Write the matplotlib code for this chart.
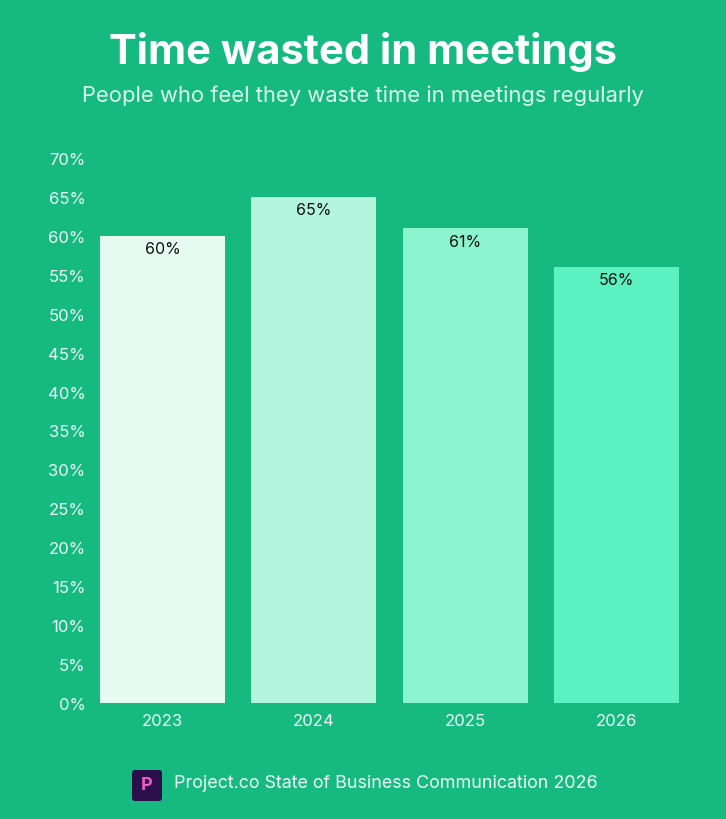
import matplotlib
matplotlib.use("Agg")
import matplotlib.pyplot as plt
from matplotlib.patches import FancyBboxPatch

years = ["2023", "2024", "2025", "2026"]
values = [60, 65, 61, 56]
bar_colors = ["#E6FCF3", "#B3F5DE", "#8CF4D1", "#5CF1C0"]
yticks = list(range(0, 75, 5))

BG = "#16B980"
plt.rcParams['font.family'] = ['Inter', 'DejaVu Sans']

fig = plt.figure(figsize=(7.26, 8.20), dpi=100, facecolor=BG)
ax = fig.add_axes([86.8/726, 1-704/820, 605.4/726, 545/820])
ax.set_facecolor(BG)

x = list(range(len(years)))
ax.bar(x, values, width=0.826, color=bar_colors, zorder=2)
for xi, v in zip(x, values):
    ax.text(xi, v - 0.7, f"{v}%", ha="center", va="top", fontsize=11.5, color="#111111", zorder=3)

ax.set_xlim(-0.5, 3.5)
ax.set_ylim(0, 70)
ax.set_yticks(yticks)
ax.set_yticklabels([f"{t}%" for t in yticks])
ax.set_xticks(x)
ax.set_xticklabels(years)
ax.tick_params(axis="both", length=0, colors="#EAFFF6", labelsize=12)
ax.tick_params(axis="y", pad=1)
ax.tick_params(axis="x", pad=7)
for s in ax.spines.values():
    s.set_visible(False)

fig.text(0.5, 1-52/820, "Time wasted in meetings", ha="center", va="center",
         fontsize=30, fontweight="bold", color="white")
fig.text(0.5, 1-96/820, "People who feel they waste time in meetings regularly", ha="center",
         va="center", fontsize=15.8, color="#D9FBEA")

# footer logo
logo = FancyBboxPatch((132/726, 1-802/820), 30/726, 31/820,
                      boxstyle="round,pad=0,rounding_size=0.004",
                      transform=fig.transFigure, facecolor="#2A0F4A", edgecolor="none")
fig.patches.append(logo)
fig.text(147/726, 1-786/820, "P", ha="center", va="center", fontsize=13, fontweight="bold",
         color="#F05AC8")
fig.text(174/726, 1-784/820, "Project.co State of Business Communication 2026", ha="left",
         va="center", fontsize=12.9, color="#EAFFF6")

fig.savefig("out.png", dpi=100, facecolor=BG)
